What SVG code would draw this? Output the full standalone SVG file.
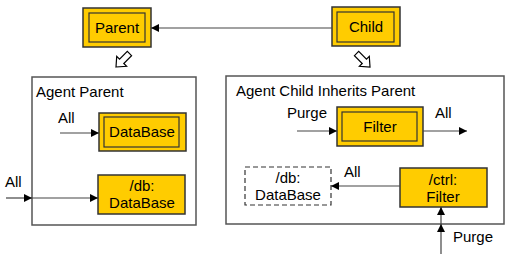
<svg xmlns="http://www.w3.org/2000/svg" width="510" height="260" viewBox="0 0 510 260">
  <defs>
    <marker id="arrow" viewBox="0 0 10 10" refX="10" refY="5" markerWidth="8" markerHeight="8" markerUnits="userSpaceOnUse" orient="auto">
      <path d="M0,0 L10,5 L0,10 z" fill="#000"/>
    </marker>
    <!-- hollow block arrow pointing down, tip at origin -->
    <polygon id="block-arrow" points="0,0 7,-8 3,-8 3,-19 -3,-19 -3,-8 -7,-8" fill="#fff" stroke="#000" stroke-width="1.2" stroke-linejoin="miter"/>
  </defs>
  <style>
    text { font-family: "Liberation Sans", Arial, sans-serif; font-size: 15px; fill: #000; }
    .mid { text-anchor: middle; }
    .agent { fill: #fff; stroke: #555; stroke-width: 1.5; }
    .outer { fill: #ffcc00; stroke: #333; stroke-width: 1.5; }
    .inner { fill: none; stroke: #333; stroke-width: 1.2; }
    .dashed { fill: #fff; stroke: #333; stroke-width: 1.2; stroke-dasharray: 5 3; }
    .wire { fill: none; stroke: #444; stroke-width: 1.2; marker-end: url(#arrow); }
  </style>
  <rect width="510" height="260" fill="#fff"/>

  <!-- containers -->
  <g id="agent-parent">
    <rect class="agent" x="32" y="77" width="164" height="148"/>
    <text x="36" y="97">Agent Parent</text>
  </g>
  <g id="agent-child">
    <rect class="agent" x="226" y="76" width="278" height="148"/>
    <text x="236" y="96">Agent Child Inherits Parent</text>
  </g>

  <!-- top-level class nodes -->
  <g id="parent">
    <rect class="outer" x="83" y="8" width="68" height="39"/>
    <rect class="inner" x="89" y="13" width="56" height="29"/>
    <text class="mid" x="117" y="33">Parent</text>
  </g>
  <g id="child">
    <rect class="outer" x="332" y="7" width="68" height="39"/>
    <rect class="inner" x="337" y="12" width="57" height="30"/>
    <text class="mid" x="366" y="32">Child</text>
  </g>

  <!-- nodes inside Agent Parent -->
  <g id="database">
    <rect class="outer" x="99" y="113" width="87" height="38" stroke="#000"/>
    <rect class="inner" x="104" y="117" width="75" height="30"/>
    <text class="mid" x="142" y="137">DataBase</text>
  </g>
  <g id="db-database">
    <rect class="outer" x="98" y="175" width="87" height="39"/>
    <text class="mid" x="142" y="191">/db:</text>
    <text class="mid" x="142" y="208">DataBase</text>
  </g>

  <!-- nodes inside Agent Child -->
  <g id="filter">
    <rect class="outer" x="337" y="107" width="86" height="39" stroke="#000"/>
    <rect class="inner" x="342" y="112" width="75" height="29"/>
    <text class="mid" x="380" y="132">Filter</text>
  </g>
  <g id="db-database-inherited">
    <rect class="dashed" x="245" y="167" width="86" height="38"/>
    <text class="mid" x="288" y="183">/db:</text>
    <text class="mid" x="288" y="200">DataBase</text>
  </g>
  <g id="ctrl-filter">
    <rect class="outer" x="400" y="168" width="87" height="39"/>
    <text class="mid" x="443" y="185">/ctrl:</text>
    <text class="mid" x="443" y="202">Filter</text>
  </g>

  <!-- connectors -->
  <g id="connectors">
    <line class="wire" x1="332" y1="28" x2="151" y2="28"/>
    <use href="#block-arrow" transform="translate(116,67) rotate(45)"/>
    <use href="#block-arrow" transform="translate(370,67) rotate(-45)"/>

    <line class="wire" x1="60" y1="133" x2="99" y2="133"/>
    <line class="wire" x1="6" y1="198" x2="32" y2="198"/>
    <line class="wire" x1="32" y1="198" x2="98" y2="198"/>

    <line class="wire" x1="297" y1="131" x2="337" y2="131"/>
    <line class="wire" x1="423" y1="131" x2="467" y2="131"/>
    <line class="wire" x1="400" y1="186" x2="331" y2="186"/>
    <line class="wire" x1="441" y1="254" x2="441" y2="224"/>
    <line class="wire" x1="441" y1="224" x2="441" y2="207"/>
  </g>

  <!-- connector labels -->
  <g id="labels">
    <text x="58" y="123">All</text>
    <text x="5" y="187">All</text>
    <text x="287" y="118">Purge</text>
    <text x="435" y="118">All</text>
    <text x="344" y="177">All</text>
    <text x="453" y="242">Purge</text>
  </g>
</svg>
